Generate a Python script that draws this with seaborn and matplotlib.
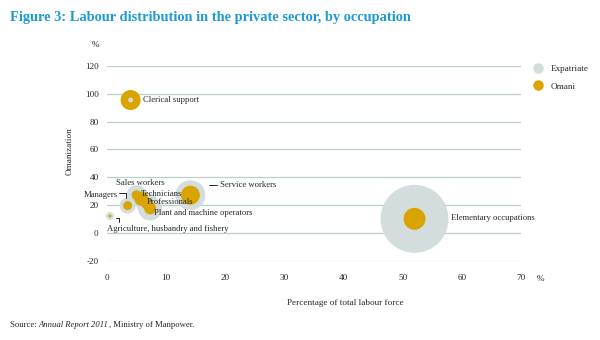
import matplotlib
matplotlib.use("Agg")
import matplotlib.pyplot as plt
import matplotlib.transforms as mtransforms
from matplotlib.lines import Line2D
import pandas as pd
import seaborn as sns

# --- datos ---
occupations = [
    "Clerical support",
    "Sales workers",
    "Technicians",
    "Professionals",
    "Plant and machine operators",
    "Managers",
    "Agriculture, husbandry and fishery",
    "Service workers",
    "Elementary occupations",
]
labour_share = [4.0, 5.0, 5.8, 6.8, 7.3, 3.5, 0.5, 14.1, 52.0]
omanization = [95.5, 27.0, 24.5, 21.0, 17.5, 19.5, 12.0, 27.0, 10.0]
expat_size = [3, 50, 40, 60, 72, 32, 8, 112, 578]
omani_size = [50, 12, 25, 18, 18, 10, 1, 45, 60]

GOLD = "#d9a400"
GREY = "#d4dddd"
GRID = "#bccfca"
BLUE = "#1b9ad6"

sns.set_style("white")
plt.rcParams["font.family"] = ["Liberation Serif", "DejaVu Serif"]
plt.rcParams["axes.unicode_minus"] = False

# tabla larga: un punto por ocupacion y grupo, los grandes se dibujan primero
df = pd.DataFrame({
    "occupation": occupations * 2,
    "share": labour_share * 2,
    "omanization": omanization * 2,
    "group": ["Expatriate"] * len(occupations) + ["Omani"] * len(occupations),
    "size": expat_size + omani_size,
})
df = df.sort_values("size", ascending=False).reset_index(drop=True)

fig = plt.figure(figsize=(6, 3.4), dpi=100)
ax = fig.add_axes([0.1783, 0.2338, 0.69, 0.5721])

sns.scatterplot(
    data=df, x="share", y="omanization", hue="group", size="size",
    palette={"Expatriate": GREY, "Omani": GOLD},
    sizes=(0, 600 * 4.15), size_norm=(0, 600),
    linewidth=0, alpha=1, legend=False, ax=ax, clip_on=False, zorder=3,
)

ax.set_xlim(0, 70)
ax.set_ylim(-20, 120)
ax.set_xticks(range(0, 71, 10))
ax.set_yticks(range(-20, 121, 20))
ax.yaxis.grid(True, color=GRID, lw=0.9)
ax.xaxis.grid(False)
for s in ax.spines.values():
    s.set_visible(False)
ax.tick_params(axis="x", length=0, pad=10, labelsize=6.6)
ax.tick_params(axis="y", length=0, pad=6, labelsize=6.6)

ax.set_xlabel("Percentage of total labour force", fontsize=6.6)
ax.xaxis.set_label_coords(0.575, -0.2)
ax.set_ylabel("Omanization", fontsize=6.6)
ax.yaxis.set_label_coords(-0.08, 0.56)

fig.text(96 / 600, 1 - 45 / 340, "%", fontsize=6.6, ha="center", va="center")
fig.text(541 / 600, 1 - 279 / 340, "%", fontsize=6.6, ha="center", va="center")

# etiquetas: desplazamiento en puntos desde la burbuja
label_offsets = {
    "Clerical support": (9, 0, "left"),
    "Sales workers": (-14.5, 9, "left"),
    "Technicians": (0, 3.5, "left"),
    "Professionals": (0, 1.2, "left"),
    "Plant and machine operators": (2.9, -3.2, "left"),
    "Managers": (-7.2, 7.9, "right"),
    "Agriculture, husbandry and fishery": (-2.4, -9.1, "left"),
    "Service workers": (21.6, 7.2, "left"),
    "Elementary occupations": (26.6, 0.5, "left"),
}
for name, x, y in zip(occupations, labour_share, omanization):
    dx, dy, ha = label_offsets[name]
    ax.annotate(name, (x, y), xytext=(dx, dy), textcoords="offset points",
                fontsize=6.2, ha=ha, va="center", zorder=5)


def leader(name, pts):
    i = occupations.index(name)
    tr = fig.dpi_scale_trans + mtransforms.ScaledTranslation(
        labour_share[i], omanization[i], ax.transData)
    ax.plot([p[0] / 72 for p in pts], [p[1] / 72 for p in pts],
            transform=tr, color="black", lw=0.6, clip_on=False, zorder=5)


leader("Service workers", [(13.7, 7.2), (19.2, 7.2)])
leader("Managers", [(-6.0, 9.1), (-1.4, 9.1), (-1.4, 5.6)])
leader("Agriculture, husbandry and fishery", [(4.3, -1.4), (6.7, -1.4), (6.7, -4.3)])

handles = [
    Line2D([], [], marker="o", ls="", markersize=7.5, color=GREY, mec="none"),
    Line2D([], [], marker="o", ls="", markersize=7.5, color=GOLD, mec="none"),
]
fig.legend(handles, ["Expatriate", "Omani"], loc="upper left",
           bbox_to_anchor=(525 / 600, 1 - 61 / 340), frameon=False,
           fontsize=6.6, handletextpad=0.4, labelspacing=1.0, borderaxespad=0)

fig.text(10 / 600, 1 - 17 / 340,
         "Figure 3: Labour distribution in the private sector, by occupation",
         color=BLUE, fontsize=10.4, fontweight="bold", ha="left", va="center")

# pie de fuente con el titulo del informe en cursiva
src = fig.text(10 / 600, 1 - 327 / 340, "Source: ", fontsize=6.2,
               ha="left", va="baseline")
src2 = ax.annotate("Annual Report 2011", xy=(1, 0), xycoords=src,
                   fontsize=6.2, style="italic", ha="left", va="bottom",
                   annotation_clip=False)
ax.annotate(", Ministry of Manpower.", xy=(1, 0), xycoords=src2,
            fontsize=6.2, ha="left", va="bottom", annotation_clip=False)

fig.savefig("out.png", dpi=100)
